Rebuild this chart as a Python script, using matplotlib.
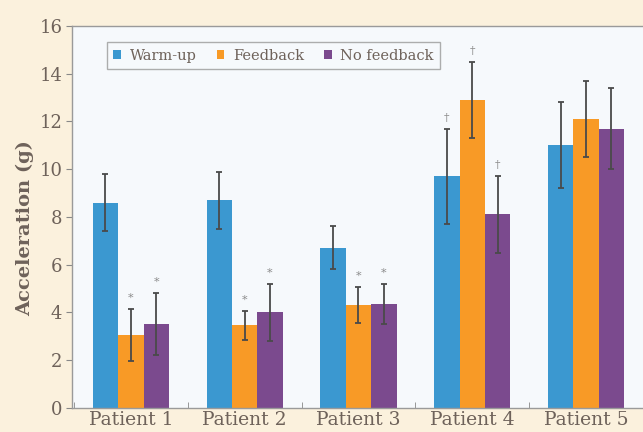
import matplotlib.pyplot as plt
import numpy as np

patients = ["Patient 1", "Patient 2", "Patient 3", "Patient 4", "Patient 5"]
series = ["Warm-up", "Feedback", "No feedback"]

warmup = [8.6, 8.7, 6.7, 9.7, 11.0]
feedback = [3.05, 3.45, 4.3, 12.9, 12.1]
no_feedback = [3.5, 4.0, 4.35, 8.1, 11.7]

warmup_err = [1.2, 1.2, 0.9, 2.0, 1.8]
feedback_err = [1.1, 0.6, 0.75, 1.6, 1.6]
no_feedback_err = [1.3, 1.2, 0.85, 1.6, 1.7]

# significance marks above each bar ("" = none)
warmup_sig = ["", "", "", "\u2020", ""]
feedback_sig = ["*", "*", "*", "\u2020", ""]
no_feedback_sig = ["*", "*", "*", "\u2020", ""]

colors = ["#3b98d0", "#f89a26", "#7b4a8e"]
text_col = "#6e625a"

plt.rcParams["font.family"] = ["DejaVu Serif", "Liberation Serif"]

fig = plt.figure(figsize=(6.43, 4.32), dpi=100)
fig.patch.set_facecolor("#fbf1dd")
ax = fig.add_axes([0.112, 0.056, 0.888, 0.884])
ax.set_facecolor("#f6f9fc")

x = np.arange(len(patients))
w = 0.223
groups = [
    (warmup, warmup_err, warmup_sig),
    (feedback, feedback_err, feedback_sig),
    (no_feedback, no_feedback_err, no_feedback_sig),
]
for i, (vals, errs, sigs) in enumerate(groups):
    pos = x + (i - 1) * w
    ax.bar(pos, vals, w, color=colors[i], label=series[i], zorder=2)
    ax.errorbar(pos, vals, yerr=errs, fmt="none", ecolor="#4a4a4a",
                elinewidth=1.3, capsize=2, capthick=1.3, zorder=3)
    for p, v, e, s in zip(pos, vals, errs, sigs):
        if s:
            ax.text(p, v + e + 0.25, s, ha="center", va="bottom",
                    fontsize=8, color="#8a8a8a", zorder=4)

ax.set_xlim(-0.517, 4.448)
ax.set_ylim(0, 16)
ax.set_yticks(np.arange(0, 17, 2))
ax.set_xticks(x)
ax.set_xticklabels(patients)
ax.set_xticks(np.arange(-0.5, 4.6, 1), minor=True)
ax.tick_params(axis="x", which="major", length=0, labelsize=13.5,
               labelcolor=text_col, pad=2)
ax.tick_params(axis="x", which="minor", length=4, direction="in",
               color="#888888")
ax.tick_params(axis="y", length=4, color="#888888", labelsize=13,
               labelcolor=text_col, pad=3)

for side in ["left", "bottom", "top"]:
    ax.spines[side].set_color("#9a9a9a")
    ax.spines[side].set_linewidth(1.0)
ax.spines["right"].set_visible(False)

ax.set_ylabel("Acceleration (g)", fontsize=14, fontweight="bold",
              color=text_col)
ax.yaxis.set_label_coords(-0.066, 0.47)

leg = ax.legend(loc="upper left", bbox_to_anchor=(0.061, 0.958), ncol=3,
                fontsize=10.5, frameon=True, fancybox=False,
                borderaxespad=0, handlelength=0.5, handleheight=0.5,
                handletextpad=0.6, columnspacing=1.4, borderpad=0.45)
leg.get_frame().set_edgecolor("#9a9a9a")
leg.get_frame().set_facecolor("#f6f9fc")
leg.get_frame().set_linewidth(1.0)
for t in leg.get_texts():
    t.set_color(text_col)

fig.savefig("out.png", dpi=100, facecolor=fig.get_facecolor())
